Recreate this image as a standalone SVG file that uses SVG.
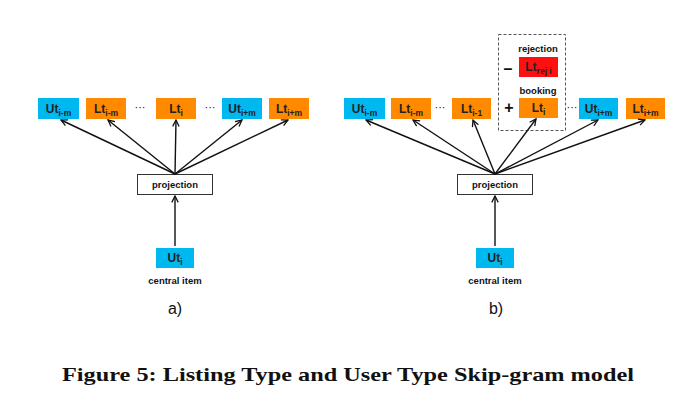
<svg xmlns="http://www.w3.org/2000/svg" width="696" height="417" viewBox="0 0 696 417">
<style>
.u{fill:#00B8F0}
.l{fill:#FF8A00}
.r{fill:#FF1010}
.t{font-family:"Liberation Sans",Arial,sans-serif;font-weight:bold;font-size:12px;fill:#222;text-anchor:middle}
.s{font-size:8.5px}
.lab{font-family:"Liberation Sans",Arial,sans-serif;font-weight:bold;font-size:9.5px;fill:#111;text-anchor:middle}
.dots{font-family:"Liberation Sans",Arial,sans-serif;font-size:11px;fill:#111;text-anchor:middle}
.pb{fill:#fff;stroke:#333;stroke-width:1}
.c line{stroke:#111;stroke-width:1.4;marker-end:url(#ah)}
.sign{font-family:"Liberation Sans",Arial,sans-serif;font-weight:bold;font-size:16px;fill:#111;text-anchor:middle}
.ab{font-family:"Liberation Sans",Arial,sans-serif;font-size:16px;fill:#111;text-anchor:middle}
</style>
<defs>
<marker id="ah" viewBox="0 0 10 10" refX="9" refY="5" markerWidth="8" markerHeight="8" markerUnits="userSpaceOnUse" orient="auto">
<path d="M1,1 L9,5 L1,9" fill="none" stroke="#111" stroke-width="1.6"/>
</marker>
</defs>
<rect width="696" height="417" fill="#fff"/>

<!-- Panel a -->
<g id="a_ut_im"><rect class="u" x="38" y="98" width="41" height="21"/><text class="t" x="58.5" y="113">Ut<tspan class="s" dy="3">i-m</tspan></text></g>
<g id="a_lt_im"><rect class="l" x="86" y="98" width="40" height="21"/><text class="t" x="106" y="113">Lt<tspan class="s" dy="3">i-m</tspan></text></g>
<text class="dots" x="140" y="111">···</text>
<g id="a_lt_i"><rect class="l" x="156" y="98" width="40" height="21"/><text class="t" x="176" y="113">Lt<tspan class="s" dy="3">i</tspan></text></g>
<text class="dots" x="210" y="111">···</text>
<g id="a_ut_ipm"><rect class="u" x="222" y="98" width="40" height="21"/><text class="t" x="242" y="113">Ut<tspan class="s" dy="3">i+m</tspan></text></g>
<g id="a_lt_ipm"><rect class="l" x="269" y="98" width="40" height="21"/><text class="t" x="289" y="113">Lt<tspan class="s" dy="3">i+m</tspan></text></g>
<g id="a_proj"><rect class="pb" x="137.5" y="174.5" width="75" height="20"/><text class="lab" x="175" y="188">projection</text></g>
<g id="a_central"><rect class="u" x="156" y="248" width="38" height="20"/><text class="t" x="175" y="262">Ut<tspan class="s" dy="3">i</tspan></text><text class="lab" x="175" y="284">central item</text></g>
<text class="ab" x="175" y="314">a)</text>

<!-- Panel b -->
<g id="b_ut_im"><rect class="u" x="344" y="98" width="41" height="21"/><text class="t" x="364.5" y="113">Ut<tspan class="s" dy="3">i-m</tspan></text></g>
<g id="b_lt_im"><rect class="l" x="391" y="98" width="40" height="21"/><text class="t" x="411" y="113">Lt<tspan class="s" dy="3">i-m</tspan></text></g>
<text class="dots" x="440" y="111">···</text>
<g id="b_lt_i1"><rect class="l" x="452" y="98" width="39" height="21"/><text class="t" x="471.5" y="113">Lt<tspan class="s" dy="3">i-1</tspan></text></g>
<g id="b_group">
<rect x="498.5" y="34.5" width="67" height="96" fill="none" stroke="#555" stroke-width="1" stroke-dasharray="3,2"/>
<text class="lab" x="538" y="52">rejection</text>
<text class="sign" x="508" y="74">–</text>
<rect class="r" x="519" y="57" width="39" height="20"/><text class="t" x="538.5" y="71">Lt<tspan class="s" dy="3">rej i</tspan></text>
<text class="lab" x="538" y="94">booking</text>
<text class="sign" x="509" y="113">+</text>
<rect class="l" x="519" y="98" width="39" height="20"/><text class="t" x="538.5" y="112">Lt<tspan class="s" dy="3">i</tspan></text>
</g>
<text class="dots" x="572" y="111">···</text>
<g id="b_ut_ipm"><rect class="u" x="579" y="98" width="39" height="21"/><text class="t" x="598.5" y="113">Ut<tspan class="s" dy="3">i+m</tspan></text></g>
<g id="b_lt_ipm"><rect class="l" x="626" y="98" width="39" height="21"/><text class="t" x="645.5" y="113">Lt<tspan class="s" dy="3">i+m</tspan></text></g>
<g id="b_proj"><rect class="pb" x="457.5" y="174.5" width="75" height="20"/><text class="lab" x="495" y="188">projection</text></g>
<g id="b_central"><rect class="u" x="476" y="248" width="38" height="20"/><text class="t" x="495" y="262">Ut<tspan class="s" dy="3">i</tspan></text><text class="lab" x="495" y="284">central item</text></g>
<text class="ab" x="496" y="314">b)</text>

<g id="connectors" class="c">
<line x1="175" y1="246" x2="175" y2="196"/>
<line x1="175" y1="174" x2="61" y2="120"/>
<line x1="175" y1="174" x2="108" y2="120"/>
<line x1="175" y1="174" x2="176" y2="120"/>
<line x1="175" y1="174" x2="242" y2="120"/>
<line x1="175" y1="174" x2="288" y2="120"/>
<line x1="495" y1="246" x2="495" y2="196"/>
<line x1="495" y1="174" x2="366" y2="120"/>
<line x1="495" y1="174" x2="413" y2="120"/>
<line x1="495" y1="174" x2="473" y2="120"/>
<line x1="495" y1="174" x2="536" y2="119"/>
<line x1="495" y1="174" x2="598" y2="120"/>
<line x1="495" y1="174" x2="645" y2="120"/>
</g>

<text x="62" y="381" font-family="'Liberation Serif','Times New Roman',serif" font-weight="bold" font-size="19" textLength="572" lengthAdjust="spacingAndGlyphs" fill="#111">Figure 5: Listing Type and User Type Skip-gram model</text>
</svg>
